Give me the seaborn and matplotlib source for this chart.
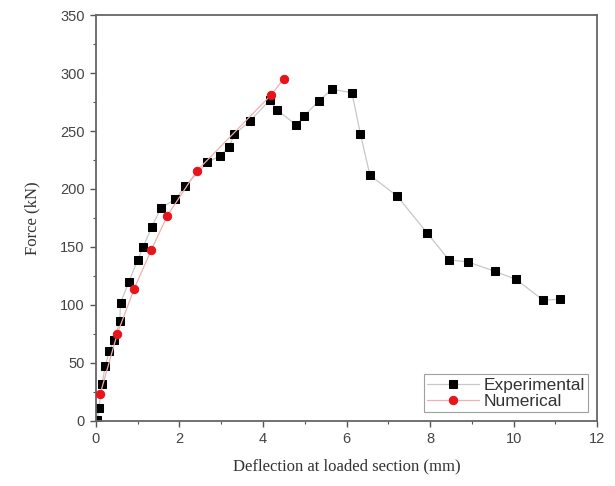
import matplotlib
matplotlib.use("Agg")
import matplotlib.pyplot as plt
import seaborn as sns
import pandas as pd
from matplotlib.ticker import MultipleLocator

exp_x = [0.03, 0.07, 0.15, 0.22, 0.32, 0.44, 0.57, 0.59, 0.79, 1.00, 1.13, 1.34, 1.56,
         1.90, 2.14, 2.67, 2.98, 3.19, 3.31, 3.70, 4.16, 4.34, 4.80, 4.98, 5.34, 5.65,
         6.13, 6.33, 6.56, 7.21, 7.93, 8.45, 8.91, 9.55, 10.06, 10.71, 11.12]
exp_y = [0.5, 11.5, 32, 47, 60, 70, 86, 102, 120, 139, 150, 167.5, 184,
         191, 202.6, 223, 228.7, 236.5, 247, 259, 276.7, 268, 255, 263, 276, 286,
         283, 247.7, 211.8, 194, 162, 139, 137, 129, 122, 104, 105]
num_x = [0.10, 0.51, 0.91, 1.32, 1.71, 2.42, 4.19, 4.50]
num_y = [23, 75, 113.5, 147, 177, 215.8, 281, 295]

sns.set_style("ticks")
plt.rcParams["font.family"] = ["Liberation Sans", "DejaVu Sans"]

fig = plt.figure(figsize=(6.15, 4.86), dpi=100)
ax = fig.add_axes([0.156, 0.134, 0.815, 0.835])

exp_df = pd.DataFrame({"x": exp_x, "y": exp_y})
num_df = pd.DataFrame({"x": num_x, "y": num_y})

sns.lineplot(data=exp_df, x="x", y="y", sort=False, ax=ax, color="#c8c8c8", lw=0.9,
             marker="s", markersize=5.3, markerfacecolor="black", markeredgecolor="black",
             label="Experimental", zorder=2)
sns.lineplot(data=num_df, x="x", y="y", sort=False, ax=ax, color="#f0b0b0", lw=0.9,
             marker="o", markersize=6, markerfacecolor="#e8141c", markeredgecolor="#e8141c",
             label="Numerical", zorder=3)

ax.set_xlim(0, 12)
ax.set_ylim(0, 350)
ax.xaxis.set_major_locator(MultipleLocator(2))
ax.xaxis.set_minor_locator(MultipleLocator(1))
ax.yaxis.set_major_locator(MultipleLocator(50))
ax.yaxis.set_minor_locator(MultipleLocator(25))
ax.tick_params(which="major", direction="out", length=4, width=1, color="#555555",
               labelsize=10.5, labelcolor="#444444", pad=4)
ax.tick_params(which="minor", direction="out", length=2.5, width=0.8, color="#555555")
for s in ax.spines.values():
    s.set_visible(True)
    s.set_color("#666666")
    s.set_linewidth(1.3)

ax.set_xlabel("Deflection at loaded section (mm)", family=["Liberation Serif", "DejaVu Serif"],
              fontsize=12, color="#333333", labelpad=9)
ax.set_ylabel("Force (kN)", family=["Liberation Serif", "DejaVu Serif"],
              fontsize=12, color="#333333", labelpad=14)

leg = ax.legend(loc="lower right", fontsize=12.5, frameon=True, fancybox=False,
                edgecolor="#888888", borderaxespad=0.5, handlelength=3.0,
                handletextpad=0.25, borderpad=0.2, labelspacing=0.05)
leg.get_frame().set_linewidth(0.8)
for t in leg.get_texts():
    t.set_color("#333333")

fig.savefig("out.png", dpi=100)
